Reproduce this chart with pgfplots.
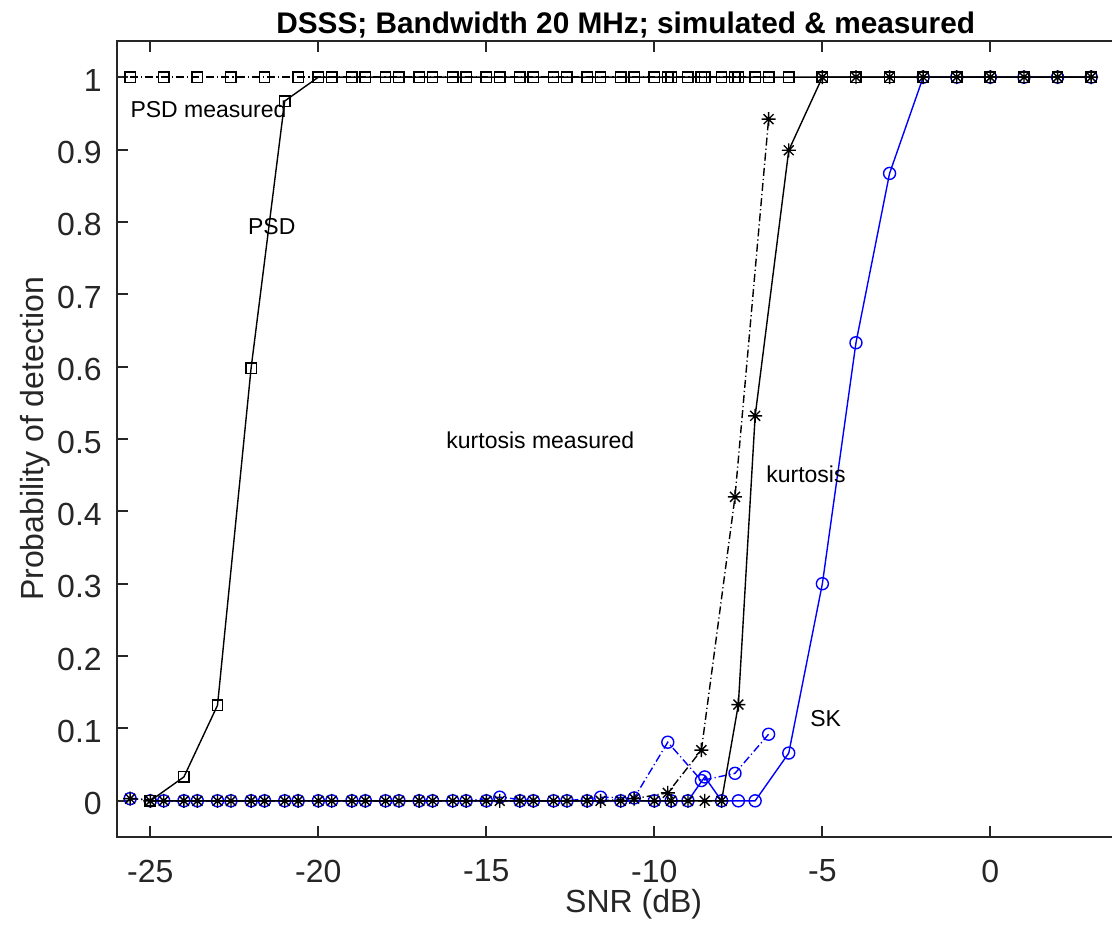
\documentclass[border=0pt]{standalone}
\usepackage{fontspec}
\setmainfont{Liberation Sans}
\usepackage{pgfplots}
\usepackage{pgfplotstable}
\pgfplotsset{compat=1.18}

\definecolor{axgray}{rgb}{0.15,0.15,0.15}
\definecolor{mblue}{rgb}{0,0,1}

% MATLAB style asterisk (+ and x together)
\pgfdeclareplotmark{mlstar}{%
  \pgfpathmoveto{\pgfqpoint{0pt}{\pgfplotmarksize}}%
  \pgfpathlineto{\pgfqpoint{0pt}{-\pgfplotmarksize}}%
  \pgfpathmoveto{\pgfqpoint{\pgfplotmarksize}{0pt}}%
  \pgfpathlineto{\pgfqpoint{-\pgfplotmarksize}{0pt}}%
  \pgfpathmoveto{\pgfqpoint{0.707\pgfplotmarksize}{0.707\pgfplotmarksize}}%
  \pgfpathlineto{\pgfqpoint{-0.707\pgfplotmarksize}{-0.707\pgfplotmarksize}}%
  \pgfpathmoveto{\pgfqpoint{0.707\pgfplotmarksize}{-0.707\pgfplotmarksize}}%
  \pgfpathlineto{\pgfqpoint{-0.707\pgfplotmarksize}{0.707\pgfplotmarksize}}%
  \pgfusepathqstroke}

% simulated
\pgfplotstableread{
x     psd    kurt   sk
-25   0      0      0
-24   0.033  0      0
-23   0.132  0      0
-22   0.598  0      0
-21   0.967  0      0
-20   1      0      0
-19   1      0      0
-18   1      0      0
-17   1      0      0
-16   1      0      0
-15   1      0      0
-14   1      0      0
-13   1      0      0
-12   1      0      0
-11   1      0      0
-10   1      0      0
-9.5  1      0      0
-9    1      0      0
-8.5  1      0      0.033
-8    1      0      0
-7.5  1      0.133  0
-7    1      0.532  0
-6    1      0.899  0.066
-5    1      1      0.300
-4    1      1      0.633
-3    1      1      0.867
-2    1      1      1
-1    1      1      1
0     1      1      1
1     1      1      1
2     1      1      1
3     1      1      1
}\simdata

% measured
\pgfplotstableread{
x      psd  kurt   sk
-25.6  1    0.003  0.003
-24.6  1    0      0
-23.6  1    0      0
-22.6  1    0      0
-21.6  1    0      0
-20.6  1    0      0
-19.6  1    0      0
-18.6  1    0      0
-17.6  1    0      0
-16.6  1    0      0
-15.6  1    0      0
-14.6  1    0      0.005
-13.6  1    0      0
-12.6  1    0      0
-11.6  1    0      0.005
-10.6  1    0.003  0.004
-9.6   1    0.011  0.081
-8.6   1    0.070  0.028
-7.6   1    0.420  0.038
-6.6   1    0.942  0.092
}\measdata

\begin{document}
\begin{tikzpicture}
\begin{axis}[
  name=ax,
  scale only axis,
  width=499pt, height=398pt,
  xmin=-26, xmax=3.7,
  ymin=-0.05, ymax=1.05,
  xtick={-25,-20,-15,-10,-5,0},
  ytick={0,0.1,0.2,0.3,0.4,0.5,0.6,0.7,0.8,0.9,1},
  xtick pos=both, ytick pos=left,
  tick align=inside,
  major tick length=5.5pt,
  axis line style={axgray, line width=1pt},
  every tick/.append style={axgray, line width=1pt},
  /pgf/number format/assume math mode=true,
  tick label style={font=\fontsize{16}{19}\selectfont, text=axgray},
  xticklabel style={anchor=north, inner sep=0pt, yshift=-11.2pt},
  yticklabel style={anchor=east, inner sep=0pt, xshift=-7.3pt, yshift=-1.5pt},
  xlabel={SNR (dB)},
  ylabel={Probability of detection},
  every axis x label/.style={at={(axis description cs:0.518,-0.0947)}, anchor=base,
    font=\fontsize{16}{19}\selectfont, text=axgray},
  every axis y label/.style={at={(axis description cs:-0.0738,0.5)}, rotate=90, anchor=base,
    font=\fontsize{16}{19}\selectfont, text=axgray},
  title={DSSS; Bandwidth 20 MHz; simulated \& measured},
  every axis title/.style={at={(axis description cs:0.51,1.0088)}, anchor=base,
    font=\bfseries\fontsize{14.9}{17}\selectfont},
  every axis plot/.append style={line width=0.7pt},
  mark options={solid},
]
  % SK
  \addplot[mblue, mark=o, mark size=3pt] table[x=x, y=sk] {\simdata};
  \addplot[mblue, dash pattern=on 4pt off 1.5pt on 0.6pt off 1.5pt, mark=o, mark size=3pt]
    table[x=x, y=sk] {\measdata};
  % measured kurtosis and PSD
  \addplot[black, dash pattern=on 4pt off 1.5pt on 0.6pt off 1.5pt, mark=mlstar, mark size=3.5pt]
    table[x=x, y=kurt] {\measdata};
  \addplot[black, dash pattern=on 4pt off 1.5pt on 0.6pt off 1.5pt, mark=square, mark size=2.6pt]
    table[x=x, y=psd] {\measdata};
  % simulated kurtosis and PSD
  \addplot[black, mark=mlstar, mark size=3.5pt] table[x=x, y=kurt] {\simdata};
  \addplot[black, mark=square, mark size=2.6pt] table[x=x, y=psd] {\simdata};

  \begin{scope}[every node/.style={anchor=west, inner sep=0pt, font=\fontsize{11.5}{14}\selectfont}]
    \node at (axis cs:-25.6,0.955) {PSD measured};
    \node at (axis cs:-22.1,0.794) {PSD};
    \node at (axis cs:-16.2,0.498) {kurtosis measured};
    \node at (axis cs:-6.68,0.451) {kurtosis};
    \node at (axis cs:-5.37,0.113) {SK};
  \end{scope}
\end{axis}
\pgfresetboundingbox
\useasboundingbox ([shift={(-58.35pt,-50pt)}]ax.south west) rectangle ([shift={(-1.35pt,20.5pt)}]ax.north east);
\end{tikzpicture}
\end{document}
